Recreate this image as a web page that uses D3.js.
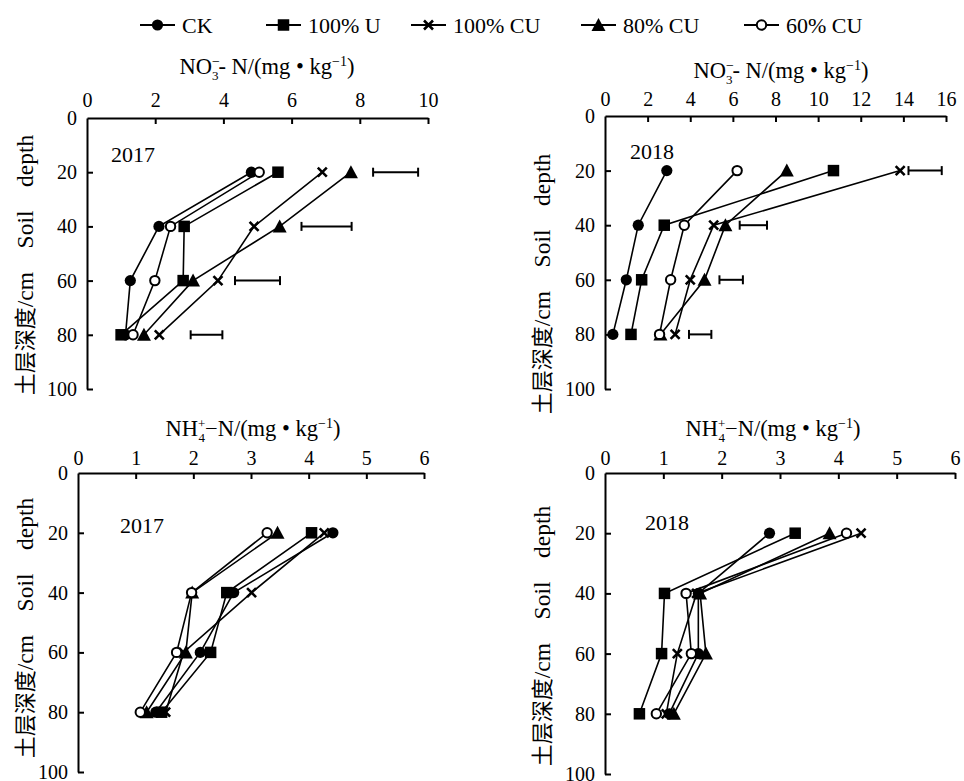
<!DOCTYPE html>
<html><head><meta charset="utf-8">
<script src="https://cdn.jsdelivr.net/npm/d3@7"></script>
<style>
body{margin:0;background:#fff;}
svg{display:block;}
text{font-family:"Liberation Serif","Times New Roman",serif;fill:#000;}
.cjk{font-family:"Noto Sans CJK SC","Noto Sans CJK JP",sans-serif;}
</style></head>
<body><svg id="c" width="964" height="781"></svg>
<script>
// ---------- data ----------
const seriesNames = ["CK", "100% U", "100% CU", "80% CU", "60% CU"];
const seriesSymbols = ["fcircle", "square", "cross", "triangle", "ocircle"];
const depths = [20, 40, 60, 80];
const depthTicks = [0, 20, 40, 60, 80, 100];

// NO3- -N 2017
const no3_2017_CK    = [4.82, 2.11, 1.27, 1.13];
const no3_2017_U100  = [5.60, 2.85, 2.82, 1.00];
const no3_2017_CU100 = [6.90, 4.90, 3.84, 2.12];
const no3_2017_CU80  = [7.74, 5.65, 3.11, 1.67];
const no3_2017_CU60  = [5.05, 2.45, 1.99, 1.35];
const no3_2017_errLo = [8.39, 6.29, 4.34, 3.04];
const no3_2017_errHi = [9.71, 7.76, 5.66, 3.97];
const no3_2017_ticks = [0, 2, 4, 6, 8, 10];

// NO3- -N 2018
const no3_2018_CK    = [2.90, 1.56, 1.00, 0.37];
const no3_2018_U100  = [10.72, 2.78, 1.72, 1.22];
const no3_2018_CU100 = [13.85, 5.10, 4.00, 3.29];
const no3_2018_CU80  = [8.53, 5.65, 4.67, 2.60];
const no3_2018_CU60  = [6.20, 3.72, 3.08, 2.56];
const no3_2018_errLo = [14.24, 6.32, 5.37, 3.94];
const no3_2018_errHi = [15.80, 7.60, 6.47, 4.99];
const no3_2018_ticks = [0, 2, 4, 6, 8, 10, 12, 14, 16];

// NH4+ -N 2017
const nh4_2017_CK    = [4.42, 2.70, 2.12, 1.35];
const nh4_2017_U100  = [4.05, 2.58, 2.30, 1.45];
const nh4_2017_CU100 = [4.27, 3.01, 1.83, 1.52];
const nh4_2017_CU80  = [3.46, 1.98, 1.87, 1.19];
const nh4_2017_CU60  = [3.28, 1.97, 1.71, 1.08];
const nh4_2017_ticks = [0, 1, 2, 3, 4, 5, 6];

// NH4+ -N 2018
const nh4_2018_CK    = [2.82, 1.60, 1.60, 1.10];
const nh4_2018_U100  = [3.26, 1.02, 0.97, 0.59];
const nh4_2018_CU100 = [4.39, 1.57, 1.24, 1.05];
const nh4_2018_CU80  = [3.85, 1.63, 1.73, 1.18];
const nh4_2018_CU60  = [4.14, 1.39, 1.48, 0.88];
const nh4_2018_ticks = [0, 1, 2, 3, 4, 5, 6];

// ---------- drawing ----------
const svg = d3.select("#c");
const FS = 20;

function drawSymbol(g, type, x, y) {
  if (type === "fcircle") {
    g.append("circle").attr("cx", x).attr("cy", y).attr("r", 5.6).attr("fill", "#000");
  } else if (type === "ocircle") {
    g.append("circle").attr("cx", x).attr("cy", y).attr("r", 4.7).attr("fill", "#fff").attr("stroke", "#000").attr("stroke-width", 2);
  } else if (type === "square") {
    g.append("rect").attr("x", x - 5.75).attr("y", y - 5.75).attr("width", 11.5).attr("height", 11.5).attr("fill", "#000");
  } else if (type === "triangle") {
    g.append("path").attr("d", `M${x},${y-7}L${x+7},${y+6}L${x-7},${y+6}Z`).attr("fill", "#000");
  } else if (type === "cross") {
    g.append("path").attr("d", `M${x-4.5},${y-4.5}L${x+4.5},${y+4.5}M${x+4.5},${y-4.5}L${x-4.5},${y+4.5}`)
      .attr("stroke", "#000").attr("stroke-width", 2.6);
  }
}

const TFS = 22.5;
function titleNO3(g, cx, cy) {
  const t = g.append("text").attr("x", cx).attr("y", cy).attr("text-anchor", "middle").attr("font-size", TFS);
  t.append("tspan").text("NO");
  t.append("tspan").attr("font-size", 14).attr("dy", -8).text("\u2212");
  t.append("tspan").attr("font-size", 13).attr("dx", -8).attr("dy", 14).text("3");
  t.append("tspan").attr("dy", -6).text("- N/(mg \u2022 kg");
  t.append("tspan").attr("font-size", 14).attr("dy", -8).text("\u22121");
  t.append("tspan").attr("dy", 8).text(")");
}
function titleNH4(g, cx, cy) {
  const t = g.append("text").attr("x", cx).attr("y", cy).attr("text-anchor", "middle").attr("font-size", TFS);
  t.append("tspan").text("NH");
  t.append("tspan").attr("font-size", 13).attr("dy", -8).text("+");
  t.append("tspan").attr("font-size", 13).attr("dx", -7).attr("dy", 14).text("4");
  t.append("tspan").attr("dy", -6).text("\u2212N/(mg \u2022 kg");
  t.append("tspan").attr("font-size", 14).attr("dy", -8).text("\u22121");
  t.append("tspan").attr("dy", 8).text(")");
}

function drawPanel(p) {
  const g = svg.append("g");
  const x = d3.scaleLinear().domain([0, p.ticks[p.ticks.length - 1]]).range([p.x0, p.x1]);
  const y = d3.scaleLinear().domain([0, 100]).range([p.y0, p.y1]);

  const xa = g.append("g").attr("transform", `translate(0,${p.y0})`)
    .call(d3.axisTop(x).tickValues(p.ticks).tickFormat(d3.format("d")).tickSizeInner(-6).tickSizeOuter(0).tickPadding(p.xpad));
  const ya = g.append("g").attr("transform", `translate(${p.x0},0)`)
    .call(d3.axisLeft(y).tickValues(depthTicks).tickFormat(d3.format("d")).tickSizeInner(-6).tickSizeOuter(0).tickPadding(10));
  [xa, ya].forEach(a => {
    a.select(".domain").attr("stroke", "#000").attr("stroke-width", 2);
    a.selectAll(".tick line").attr("stroke", "#000").attr("stroke-width", 2);
    a.selectAll(".tick text").attr("font-size", FS).attr("font-family", "Liberation Serif").attr("fill", "#000");
  });
  ya.selectAll(".tick line").filter(d => d === 0).remove();
  xa.selectAll(".tick line").filter(d => d === 0).remove();

  // title
  p.title(g, p.titleX, p.titleY);
  // year
  g.append("text").attr("x", p.yearX).attr("y", p.yearY).attr("font-size", 22).text(p.year);
  // y axis title
  const yt = g.append("text").attr("transform", `translate(${p.ytX},${p.ytY}) rotate(-90)`)
    .attr("text-anchor", "middle").attr("font-size", 23.5).style("white-space", "pre");
  yt.append("tspan").attr("class", "cjk").attr("font-size", 22).text("土层深度");
  yt.append("tspan").text("/cm\u2003Soil\u2003depth");

  // error bars
  if (p.errLo) {
    depths.forEach((d, i) => {
      const yy = y(d), a = x(p.errLo[i]), b = x(p.errHi[i]);
      g.append("line").attr("x1", a).attr("x2", b).attr("y1", yy).attr("y2", yy).attr("stroke", "#000").attr("stroke-width", 2);
      [a, b].forEach(xx => g.append("line").attr("x1", xx).attr("x2", xx).attr("y1", yy - 4.5).attr("y2", yy + 4.5).attr("stroke", "#000").attr("stroke-width", 2));
    });
  }
  // lines
  const line = d3.line().x(d => x(d[0])).y(d => y(d[1]));
  p.series.forEach(vals => {
    g.append("path").attr("d", line(vals.map((v, i) => [v, depths[i]])))
      .attr("fill", "none").attr("stroke", "#000").attr("stroke-width", 1.6);
  });
  // markers
  p.series.forEach((vals, si) => {
    vals.forEach((v, i) => drawSymbol(g, seriesSymbols[si], x(v), y(depths[i])));
  });
}

drawPanel({x0: 87, x1: 428, y0: 118, y1: 389, xpad: 11, ticks: no3_2017_ticks, title: titleNO3, titleX: 267, titleY: 74,
  year: "2017", yearX: 111, yearY: 162, ytX: 33, ytY: 265,
  series: [no3_2017_CK, no3_2017_U100, no3_2017_CU100, no3_2017_CU80, no3_2017_CU60],
  errLo: no3_2017_errLo, errHi: no3_2017_errHi});
drawPanel({x0: 605, x1: 946, y0: 116, y1: 389, xpad: 10, ticks: no3_2018_ticks, title: titleNO3, titleX: 781, titleY: 78,
  year: "2018", yearX: 630, yearY: 159, ytX: 550, ytY: 284,
  series: [no3_2018_CK, no3_2018_U100, no3_2018_CU100, no3_2018_CU80, no3_2018_CU60],
  errLo: no3_2018_errLo, errHi: no3_2018_errHi});
drawPanel({x0: 78, x1: 424, y0: 473, y1: 772, xpad: 8, ticks: nh4_2017_ticks, title: titleNH4, titleX: 253, titleY: 436,
  year: "2017", yearX: 120, yearY: 533, ytX: 33, ytY: 628,
  series: [nh4_2017_CK, nh4_2017_U100, nh4_2017_CU100, nh4_2017_CU80, nh4_2017_CU60]});
drawPanel({x0: 605, x1: 955, y0: 473, y1: 774, xpad: 8, ticks: nh4_2018_ticks, title: titleNH4, titleX: 773, titleY: 436,
  year: "2018", yearX: 645, yearY: 530, ytX: 550, ytY: 636,
  series: [nh4_2018_CK, nh4_2018_U100, nh4_2018_CU100, nh4_2018_CU80, nh4_2018_CU60]});

// legend
const legendX = [140, 266, 411, 581, 744];
const lg = svg.append("g");
seriesNames.forEach((n, i) => {
  const lx = legendX[i], ly = 25;
  lg.append("line").attr("x1", lx).attr("x2", lx + 35).attr("y1", ly).attr("y2", ly).attr("stroke", "#000").attr("stroke-width", 2);
  drawSymbol(lg, seriesSymbols[i], lx + 17.5, ly);
  lg.append("text").attr("x", lx + 42).attr("y", ly + 8).attr("font-size", 22).text(n);
});
</script></body></html>
